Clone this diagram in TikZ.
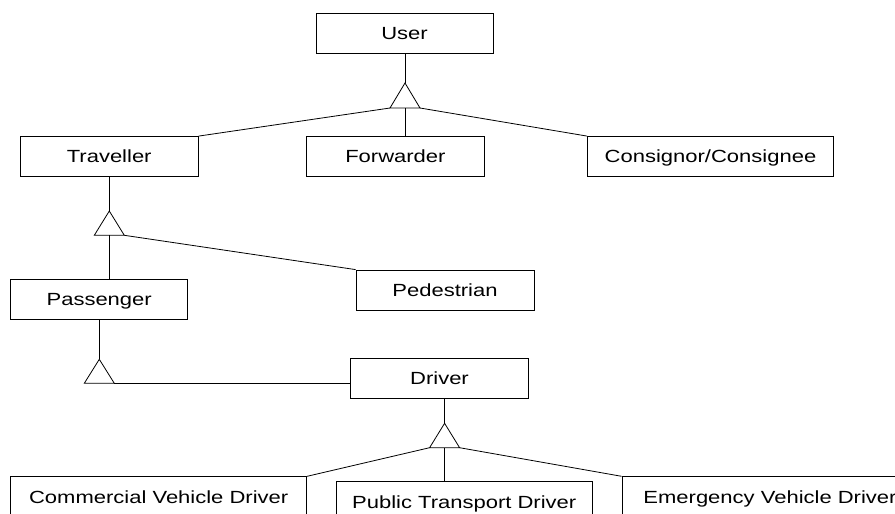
\documentclass[tikz,border=0pt]{standalone}
\usepackage{fontspec}
\newfontfamily\diafont[FakeStretch=1.25]{Liberation Sans}
\begin{document}
\begin{tikzpicture}[x=1pt,y=-1pt,
  ent/.style={draw, line width=0.8pt, rectangle, inner sep=0pt, minimum height=40pt,
    text height=12.2pt, text depth=0pt, font=\diafont\fontsize{17.6}{20}\selectfont},
  link/.style={line width=0.8pt},
  gen/.style={line width=0.8pt, line join=miter}]
\useasboundingbox (0,0) rectangle (895,514);
\clip (0,0) rectangle (895,514);
% entities
\node[ent, minimum width=177pt] (user) at (404.5,33.3) {User};
\node[ent, minimum width=178pt] (trav) at (109.2,156.5) {Traveller};
\node[ent, minimum width=177.6pt] (forw) at (395.4,156.5) {Forwarder};
\node[ent, minimum width=246pt] (cons) at (710.5,156.5) {Consignor/Consignee};
\node[ent, minimum width=178pt] (pede) at (445,290) {Pedestrian};
\node[ent, minimum width=177pt] (pass) at (99.2,299.6) {Passenger};
\node[ent, minimum width=177.6pt] (driv) at (439.5,378.7) {Driver};
\node[ent, minimum width=296pt, minimum height=41pt] (comm) at (158.7,497.2) {Commercial Vehicle Driver};
\node[ent, minimum width=256pt, minimum height=41pt] (publ) at (464.2,502.3) {Public Transport Driver};
\node[ent, minimum width=296pt, minimum height=41pt] (emer) at (770,497.2) {Emergency Vehicle Driver};
% generalisation triangles
\coordinate (t1a) at (405,83);    \coordinate (t1l) at (390,108);
\coordinate (t1m) at (405,108);   \coordinate (t1r) at (420,108);
\coordinate (t2a) at (109.3,211); \coordinate (t2l) at (94.3,235.3);
\coordinate (t2m) at (109.3,235.3); \coordinate (t2r) at (124.3,235.3);
\coordinate (t3a) at (99.3,359.3); \coordinate (t3l) at (84.3,383.3);
\coordinate (t3m) at (99.3,383.3); \coordinate (t3r) at (114.3,383.3);
\coordinate (t4a) at (444.6,423.3); \coordinate (t4l) at (429.6,447.7);
\coordinate (t4m) at (444.6,447.7); \coordinate (t4r) at (459.6,447.7);
\draw[gen] (t1a) -- (t1l) -- (t1r) -- cycle;
\draw[gen] (t2a) -- (t2l) -- (t2r) -- cycle;
\draw[gen] (t3a) -- (t3l) -- (t3r) -- cycle;
\draw[gen] (t4a) -- (t4l) -- (t4r) -- cycle;
% connectors
\draw[link] (t1a |- user.south) -- (t1a);
\draw[link] (t1l) -- (trav.north east);
\draw[link] (t1m) -- (t1m |- forw.north);
\draw[link] (t1r) -- (cons.north west);
\draw[link] (t2a |- trav.south) -- (t2a);
\draw[link] (t2m) -- (t2m |- pass.north);
\draw[link] (t2r) -- (pede.north west);
\draw[link] (t3a |- pass.south) -- (t3a);
\draw[link] (t3r) -- (t3r -| driv.west);
\draw[link] (t4a |- driv.south) -- (t4a);
\draw[link] (t4l) -- (comm.north east);
\draw[link] (t4m) -- (t4m |- publ.north);
\draw[link] (t4r) -- (emer.north west);
\end{tikzpicture}
\end{document}
